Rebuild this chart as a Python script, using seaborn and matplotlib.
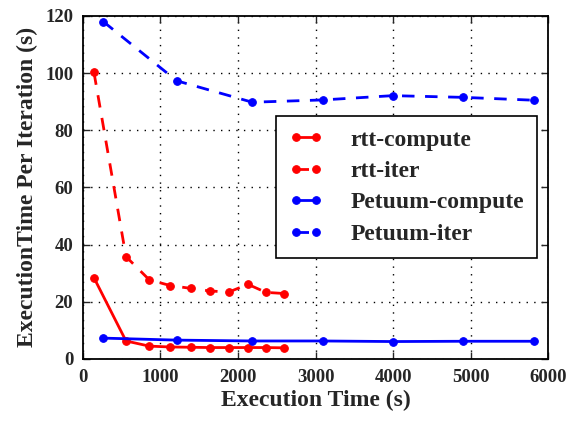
import matplotlib
matplotlib.use("Agg")
import matplotlib.pyplot as plt
import seaborn as sns
import pandas as pd

# Execution time (s) at which each iteration finished, and per-iteration times
rtt_time = [142, 555, 855, 1123, 1389, 1634, 1880, 2129, 2361, 2594]
rtt_compute = [28.4, 6.3, 4.5, 4.2, 4.1, 4.0, 4.0, 4.0, 4.0, 3.9]
rtt_iter = [100.2, 35.8, 27.7, 25.7, 24.7, 23.8, 23.4, 26.1, 23.3, 22.9]

petuum_time = [262, 1209, 2184, 3093, 3996, 4907, 5819]
petuum_compute = [7.3, 6.6, 6.3, 6.3, 6.1, 6.2, 6.2]
petuum_iter = [118.0, 97.3, 89.8, 90.6, 92.1, 91.5, 90.5]

x_ticks = [0, 1000, 2000, 3000, 4000, 5000, 6000]
y_ticks = [0, 20, 40, 60, 80, 100, 120]

sns.set_style("ticks")
plt.rcParams["font.family"] = ["Liberation Serif", "DejaVu Serif"]
plt.rcParams["font.weight"] = "bold"

series = [
    ("rtt-compute", rtt_time, rtt_compute, "#ff0000", "-"),
    ("rtt-iter", rtt_time, rtt_iter, "#ff0000", "--"),
    ("Petuum-compute", petuum_time, petuum_compute, "#0000ff", "-"),
    ("Petuum-iter", petuum_time, petuum_iter, "#0000ff", "--"),
]

fig = plt.figure(figsize=(5.77, 4.21), dpi=100)
ax = fig.add_axes([0.1438, 0.1473, 0.806, 0.815])

for name, xs, ys, color, ls in series:
    df = pd.DataFrame({"time": xs, "value": ys})
    sns.lineplot(data=df, x="time", y="value", ax=ax, color=color,
                 marker="o", markersize=5.5, markeredgecolor=color,
                 linewidth=2, label=name)
    if ls == "--":
        ax.lines[-1].set_dashes((4.5, 3.8))

ax.set_xlim(0, 6000)
ax.set_ylim(0, 120)
ax.set_xticks(x_ticks)
ax.set_yticks(y_ticks)
ax.tick_params(direction="in", top=True, right=True, length=5, width=1,
               labelsize=13.5, pad=7)
for lab in ax.get_xticklabels() + ax.get_yticklabels():
    lab.set_fontweight("bold")

ax.grid(True, color="black", linestyle=(0, (1, 4.5)), linewidth=1)
for sp in ax.spines.values():
    sp.set_linewidth(1.3)
    sp.set_color("black")

ax.set_xlabel("Execution Time (s)", fontsize=17, fontweight="bold", labelpad=3)
ax.set_ylabel("ExecutionTime Per Iteration (s)", fontsize=17, fontweight="bold",
              labelpad=5)

leg = ax.legend(loc="upper right", bbox_to_anchor=(0.976, 0.708),
                borderaxespad=0, fontsize=17, numpoints=2,
                frameon=True, fancybox=False, edgecolor="black",
                handlelength=1.45, borderpad=0.55, labelspacing=0.42,
                handletextpad=1.15)
leg.get_frame().set_linewidth(1.2)
leg.get_frame().set_alpha(1)
for t in leg.get_texts():
    t.set_fontweight("bold")

fig.savefig("out.png", dpi=100)
